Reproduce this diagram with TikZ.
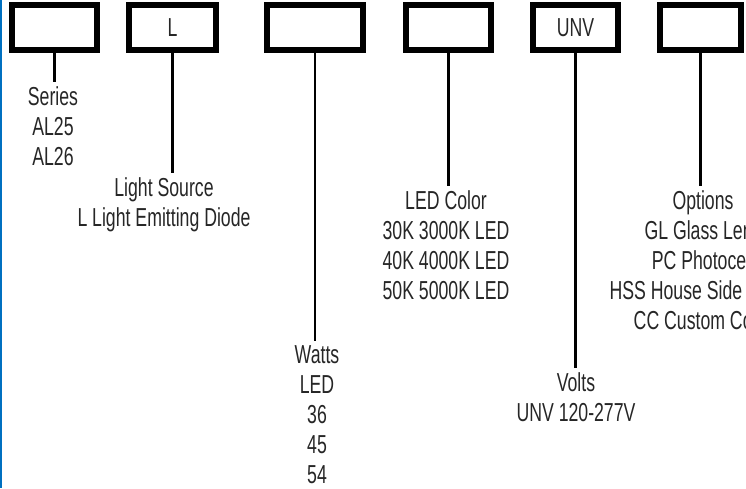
\documentclass[tikz,border=0pt]{standalone}
\usepackage{fontspec}
\setmainfont{Liberation Sans}[FakeStretch=0.68]
\usepackage{xcolor}
\definecolor{sidebar}{RGB}{0,112,192}
\begin{document}
\begin{tikzpicture}[x=1pt,y=-1pt,
  every node/.style={font=\fontsize{26}{30}\selectfont,text=black!85},
  codebox/.style={draw=black,line width=6pt,minimum height=45pt,inner sep=0pt},
  field/.style={align=center,anchor=base,inner sep=0pt,outer sep=4.5pt},
  stem/.style={line width=2.6pt}]
\useasboundingbox (0,0) rectangle (746,488);
\clip (0,0) rectangle (746,488);
\fill[sidebar] (0,0) rectangle (2.3,488);
\node[codebox,minimum width=85pt] (series) at (54.5,27.5) {};
\node[codebox,minimum width=87pt] (source) at (172.5,27.5) {L};
\node[codebox,minimum width=96pt] (watts) at (315,27.5) {};
\node[codebox,minimum width=85pt] (color) at (448.5,27.5) {};
\node[codebox,minimum width=85pt] (volts) at (575.5,27.5) {UNV};
\node[codebox,minimum width=81pt] (options) at (700.5,27.5) {};
\node[field] (seriesl) at (53,165) {Series\\AL25\\AL26};
\node[field] (sourcel) at (164,226) {Light Source\\L Light Emitting Diode};
\node[field] (wattsl) at (317,483) {Watts\\LED\\36\\45\\54};
\node[field] (colorl) at (446,299) {LED Color\\30K 3000K LED\\40K 4000K LED\\50K 5000K LED};
\node[field] (voltsl) at (576,421) {Volts\\UNV 120-277V};
\node[field] (optionsl) at (703,329) {Options\\GL Glass Lens\\PC Photocell\\HSS House Side Shield\\CC Custom Color};
\draw[stem] (series.south) -- (series.south |- seriesl.north);
\draw[stem] (source.south) -- (source.south |- sourcel.north);
\draw[stem] (watts.south) -- (watts.south |- wattsl.north);
\draw[stem] (color.south) -- (color.south |- colorl.north);
\draw[stem] (volts.south) -- (volts.south |- voltsl.north);
\draw[stem] (options.south) -- (options.south |- optionsl.north);
\end{tikzpicture}
\end{document}
